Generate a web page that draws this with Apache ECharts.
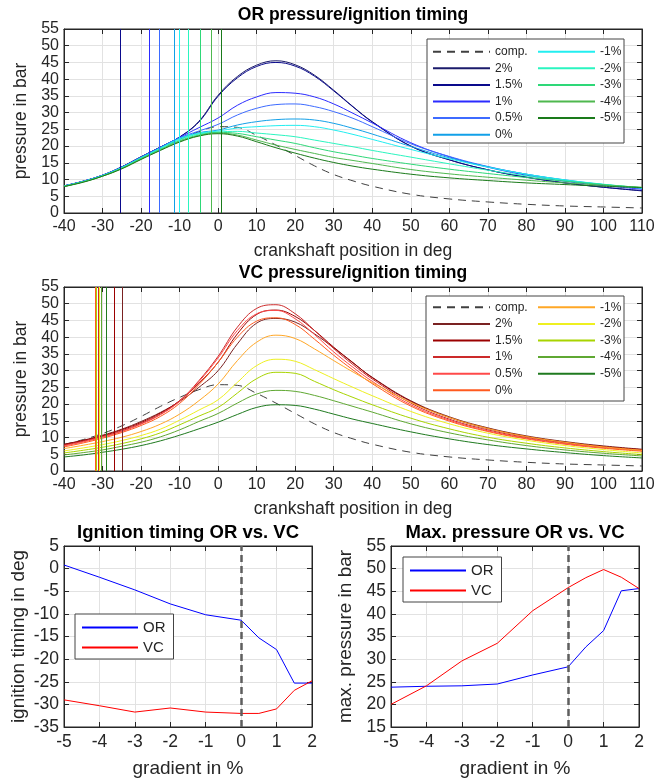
<!DOCTYPE html>
<html>
<head>
<meta charset="utf-8">
<script src="https://cdn.jsdelivr.net/npm/echarts@6/dist/echarts.min.js"></script>
<style>
  html, body { margin: 0; padding: 0; background: #fff; }
  #chart { width: 667px; height: 780px; }
</style>
</head>
<body>
<div id="chart"></div>
<script>
// crank angle samples (deg) shared by all pressure traces
const crankDeg = [-40,-35,-30,-25,-20,-15,-10,-5,0,5,10,15,20,25,30,35,40,50,60,70,80,90,100,110];
const compression = [7.9,9.4,11.2,13.5,16.3,19.3,22.0,24.3,25.8,25.6,23.2,20.3,17.2,14.1,11.5,9.6,8.0,5.6,4.2,3.3,2.6,2.1,1.8,1.5];

// OR pressure traces (bar)
const or2   = [8.1,9.5,11.3,13.8,16.8,19.7,22.7,27.4,35.2,40.8,44.2,45.5,44.3,41.2,36.7,31.8,27.3,20.0,15.9,12.9,10.7,9.0,7.7,6.6];
const or15  = [8.1,9.5,11.3,13.8,16.8,19.7,22.7,27.2,34.9,40.4,43.8,45.0,43.9,40.9,36.5,31.7,27.2,20.0,15.9,12.9,10.7,9.0,7.7,6.7];
const or1   = [8.1,9.5,11.3,13.7,16.7,19.6,22.6,25.5,28.4,32.2,34.7,36.0,35.8,34.7,32.6,29.8,26.9,21.0,16.8,13.7,11.3,9.5,8.2,7.1];
const or05  = [8.1,9.5,11.3,13.7,16.7,19.6,22.5,24.5,26.5,29.3,31.3,32.4,32.6,31.8,30.3,28.3,25.8,20.7,16.9,13.9,11.6,9.8,8.4,7.3];
const or0   = [8.1,9.4,11.2,13.6,16.6,19.5,22.3,24.0,24.8,26.3,27.3,27.9,28.1,27.8,26.8,25.3,23.6,19.9,16.5,13.8,11.6,9.9,8.5,7.4];
const orM1  = [8.0,9.4,11.2,13.6,16.5,19.4,22.2,23.8,24.5,25.4,25.8,26.1,26.2,25.8,24.8,23.5,22.0,19.0,16.2,13.7,11.6,9.9,8.6,7.5];
const orM2  = [8.0,9.4,11.1,13.5,16.4,19.2,21.9,23.6,24.2,24.4,23.9,23.4,22.8,21.8,20.8,19.8,18.7,16.7,14.7,12.8,11.1,9.7,8.5,7.5];
const orM3  = [8.0,9.3,11.1,13.4,16.3,19.0,21.6,23.3,24.1,23.8,22.8,21.8,20.8,19.5,18.3,17.3,16.3,14.6,13.1,11.8,10.6,9.5,8.5,7.6];
const orM4  = [7.9,9.3,11.0,13.3,16.1,18.8,21.4,23.1,23.9,23.3,21.8,20.3,19.0,17.8,16.6,15.7,14.8,13.0,11.7,10.7,9.8,9.0,8.3,7.7];
const orM5  = [7.9,9.2,11.0,13.2,16.0,18.7,21.2,23.0,23.7,23.0,21.3,19.5,17.9,16.4,15.1,14.0,13.1,11.6,10.5,9.7,9.0,8.5,8.0,7.6];

// VC pressure traces (bar)
const vc2   = [8.0,9.2,10.7,12.5,14.8,17.5,20.8,25.0,30.0,38.0,44.2,45.6,44.5,41.0,36.8,32.3,28.0,21.0,16.2,12.9,10.5,8.8,7.5,6.5];
const vc15  = [7.9,9.1,10.5,12.3,14.5,17.3,21.0,26.2,32.5,41.0,46.8,48.1,46.2,42.0,37.0,32.4,27.9,20.8,16.0,12.7,10.3,8.6,7.3,6.4];
const vc1   = [7.7,8.9,10.3,12.0,14.2,17.0,21.0,27.0,34.3,43.0,48.6,49.7,47.0,42.0,36.6,31.8,27.5,20.3,15.5,12.3,10.0,8.4,7.1,6.2];
const vc05  = [7.5,8.7,10.1,11.8,14.0,16.8,20.8,26.7,33.8,42.0,47.0,48.0,45.5,40.8,35.6,31.0,26.8,19.8,15.2,12.0,9.8,8.2,7.0,6.1];
const vc0   = [7.2,8.4,9.8,11.5,13.6,16.3,20.2,25.8,32.5,40.0,44.8,45.8,43.8,39.4,34.6,30.2,26.1,19.4,14.9,11.8,9.6,8.0,6.8,5.9];
const vcM1  = [6.7,7.7,8.8,10.1,11.8,14.0,17.0,21.0,26.0,33.0,38.5,40.6,39.6,36.5,33.0,29.6,26.4,20.5,16.0,12.7,10.3,8.6,7.2,6.2];
const vcM2  = [6.0,6.9,7.9,9.1,10.6,12.5,15.2,18.2,21.3,26.5,31.5,33.4,32.8,30.3,27.6,25.0,22.5,17.8,14.1,11.3,9.2,7.6,6.4,5.4];
const vcM3  = [5.4,6.2,7.1,8.2,9.6,11.4,13.8,16.4,19.0,23.3,27.6,29.5,29.2,26.8,24.3,22.0,19.8,15.8,12.6,10.1,8.3,6.9,5.8,4.9];
const vcM4  = [4.8,5.5,6.3,7.4,8.6,10.2,12.3,14.8,17.2,20.3,23.0,24.1,23.8,22.6,21.0,19.3,17.6,14.1,11.4,9.3,7.6,6.3,5.3,4.5];
const vcM5  = [4.2,4.8,5.6,6.5,7.6,9.0,10.7,12.6,14.6,16.9,19.0,19.8,19.6,18.5,17.0,15.5,14.2,11.7,9.6,7.9,6.6,5.5,4.6,3.9];

// gradient sweep
const gradient = [-5,-4,-3,-2,-1,0,0.5,1,1.5,2];
const ignitionOR = [0.8,-1.9,-4.7,-7.8,-10.2,-11.4,-15.3,-17.9,-25.3,-25.3];
const ignitionVC = [-29.0,-30.3,-31.7,-30.8,-31.7,-32.0,-32.0,-31.0,-26.9,-24.8];
const maxPressureOR = [23.8,24.0,24.1,24.5,26.5,28.3,32.7,36.3,45.1,45.6];
const maxPressureVC = [20.0,24.1,29.6,33.5,40.7,45.8,48.0,49.8,48.1,45.6];

const caseLabels = ['2%','1.5%','1%','0.5%','0%','-1%','-2%','-3%','-4%','-5%'];
const caseGradient = [2,1.5,1,0.5,0,-1,-2,-3,-4,-5];
const orTraces = [or2,or15,or1,or05,or0,orM1,orM2,orM3,orM4,orM5];
const vcTraces = [vc2,vc15,vc1,vc05,vc0,vcM1,vcM2,vcM3,vcM4,vcM5];
const orColors = ['#1b1b6b','#0a0a8c','#2b2bff','#3d6bff','#12a0e8','#22eef0','#2af5c0','#2ed878','#4fb84f','#1a7a1a'];
const vcColors = ['#7a2222','#9b0000','#cc2a2a','#ff4a4a','#ff5a1f','#ffa726','#eef020','#a8d400','#5fa832','#1f7a1f'];

const FONT = '"Liberation Sans", Arial, Helvetica, sans-serif';
const INK = '#262626';

const chart = echarts.init(document.getElementById('chart'));

const grids = [
  { left: 64, top: 29, width: 578, height: 184 },
  { left: 64, top: 287, width: 578, height: 184 },
  { left: 64, top: 546, width: 248, height: 181 },
  { left: 391, top: 546, width: 248, height: 181 }
].map(g => Object.assign({ show: true, borderColor: INK, borderWidth: 1, backgroundColor: '#fff' }, g));

const xAxes = [], yAxes = [];
function addAxes(gi, xr, yr, xName, yName, xGap, yGap, fs, nfs) {
  const tick = { show: true, inside: true, length: 5, lineStyle: { color: INK } };
  const line = { show: true, onZero: false, lineStyle: { color: INK } };
  const label = { fontSize: fs, color: INK, fontFamily: FONT, margin: 5 };
  xAxes.push({
    gridIndex: gi, type: 'value', min: xr[0], max: xr[1], interval: xr[2],
    name: xName, nameLocation: 'middle', nameGap: xGap,
    nameTextStyle: { fontSize: nfs, color: INK, fontFamily: FONT },
    axisLine: line, axisTick: tick, axisLabel: Object.assign({}, label, { margin: 6 }),
    splitLine: { show: true, lineStyle: { color: '#e2e2e2' } }
  });
  xAxes.push({
    gridIndex: gi, type: 'value', position: 'top', min: xr[0], max: xr[1], interval: xr[2],
    axisLine: line, axisTick: tick, axisLabel: { show: false }, splitLine: { show: false }
  });
  yAxes.push({
    gridIndex: gi, type: 'value', min: yr[0], max: yr[1], interval: yr[2],
    name: yName, nameLocation: 'middle', nameGap: yGap,
    nameTextStyle: { fontSize: nfs, color: INK, fontFamily: FONT },
    axisLine: line, axisTick: tick, axisLabel: label,
    splitLine: { show: true, lineStyle: { color: '#e2e2e2' } }
  });
  yAxes.push({
    gridIndex: gi, type: 'value', position: 'right', min: yr[0], max: yr[1], interval: yr[2],
    axisLine: line, axisTick: tick, axisLabel: { show: false }, splitLine: { show: false }
  });
}
addAxes(0, [-40,110,10], [0,55,5], 'crankshaft position in deg', 'pressure in bar', 29, 28, 16, 17.5);
addAxes(1, [-40,110,10], [0,55,5], 'crankshaft position in deg', 'pressure in bar', 29, 28, 16, 17.5);
addAxes(2, [-5,2,1], [-35,5,5], 'gradient in %', 'ignition timing in deg', 32, 36, 17.5, 19);
addAxes(3, [-5,2,1], [15,55,5], 'gradient in %', 'max. pressure in bar', 32, 36, 17.5, 19);

const zip = (xs, ys) => xs.map((x, i) => [x, ys[i]]);

function pressureSeries(tag, gi, traces, colors, ignition) {
  const out = [{
    name: tag + '|comp.', type: 'line', xAxisIndex: 2 * gi, yAxisIndex: 2 * gi,
    data: zip(crankDeg, compression), symbol: 'none', smooth: 0.4,
    lineStyle: { width: 1, color: '#404040', type: [8, 6] }, itemStyle: { color: '#404040' }
  }];
  traces.forEach((trace, i) => {
    const c = colors[i];
    out.push({
      name: tag + '|' + caseLabels[i], type: 'line', xAxisIndex: 2 * gi, yAxisIndex: 2 * gi,
      data: zip(crankDeg, trace), symbol: 'none', smooth: 0.4,
      lineStyle: { width: 1, color: c }, itemStyle: { color: c },
      markLine: {
        silent: true, symbol: 'none', label: { show: false },
        lineStyle: { type: 'solid', width: 1, color: c },
        data: [{ xAxis: ignition[gradient.indexOf(caseGradient[i])] }]
      }
    });
  });
  return out;
}

function sweepSeries(tag, gi, orVals, vcVals) {
  return [
    {
      name: tag + '|OR', type: 'line', xAxisIndex: 2 * gi, yAxisIndex: 2 * gi,
      data: zip(gradient, orVals), symbol: 'none',
      lineStyle: { width: 1, color: '#0000ff' }, itemStyle: { color: '#0000ff' },
      markLine: {
        silent: true, symbol: 'none', label: { show: false },
        lineStyle: { type: [7, 4], width: 2.5, color: '#5e5e5e' },
        data: [{ xAxis: 0 }]
      }
    },
    {
      name: tag + '|VC', type: 'line', xAxisIndex: 2 * gi, yAxisIndex: 2 * gi,
      data: zip(gradient, vcVals), symbol: 'none',
      lineStyle: { width: 1, color: '#ff0000' }, itemStyle: { color: '#ff0000' }
    }
  ];
}

const series = [].concat(
  pressureSeries('OR', 0, orTraces, orColors, ignitionOR),
  pressureSeries('VC', 1, vcTraces, vcColors, ignitionVC),
  sweepSeries('IGN', 2, ignitionOR, ignitionVC),
  sweepSeries('MAX', 3, maxPressureOR, maxPressureVC)
);

const strip = n => n.split('|')[1];
function smallLegend(names, left, top) {
  return {
    data: names, left: left, top: top, orient: 'vertical', selectedMode: false, z: 20,
    itemWidth: 57, itemHeight: 12, itemGap: 4.6, padding: 0, formatter: strip,
    itemStyle: { opacity: 0 },
    textStyle: { fontSize: 12, lineHeight: 12, color: INK, fontFamily: FONT }
  };
}
function sweepLegend(tag, left, top) {
  return {
    data: [tag + '|OR', tag + '|VC'], left: left, top: top, orient: 'vertical', selectedMode: false, z: 20,
    itemWidth: 56, itemHeight: 12, itemGap: 5, padding: [6, 8, 4, 6], formatter: strip,
    itemStyle: { opacity: 0 },
    backgroundColor: '#fff', borderColor: '#444', borderWidth: 1,
    textStyle: { fontSize: 15, lineHeight: 15, color: INK, fontFamily: FONT }
  };
}

const titleStyle = (fs) => ({ fontSize: fs, fontWeight: 'bold', color: '#000', fontFamily: FONT });

const option = {
  animation: false,
  backgroundColor: '#fff',
  title: [
    { text: 'OR pressure/ignition timing', left: 353, top: 6, textAlign: 'center', textStyle: titleStyle(17.5), padding: 0 },
    { text: 'VC pressure/ignition timing', left: 353, top: 264, textAlign: 'center', textStyle: titleStyle(17.5), padding: 0 },
    { text: 'Ignition timing OR vs. VC', left: 188, top: 523, textAlign: 'center', textStyle: titleStyle(18.5), padding: 0 },
    { text: 'Max. pressure OR vs. VC', left: 515, top: 523, textAlign: 'center', textStyle: titleStyle(18.5), padding: 0 }
  ],
  grid: grids,
  xAxis: xAxes,
  yAxis: yAxes,
  graphic: [
    { type: 'rect', shape: { x: 427, y: 39, width: 197, height: 104 }, style: { fill: '#fff', stroke: '#444', lineWidth: 1 }, z: 10 },
    { type: 'rect', shape: { x: 426, y: 296, width: 198, height: 105 }, style: { fill: '#fff', stroke: '#444', lineWidth: 1 }, z: 10 }
  ],
  legend: [
    smallLegend(['OR|comp.','OR|2%','OR|1.5%','OR|1%','OR|0.5%','OR|0%'], 432, 45.7),
    smallLegend(['OR|-1%','OR|-2%','OR|-3%','OR|-4%','OR|-5%'], 537, 45.7),
    smallLegend(['VC|comp.','VC|2%','VC|1.5%','VC|1%','VC|0.5%','VC|0%'], 432, 301.3),
    smallLegend(['VC|-1%','VC|-2%','VC|-3%','VC|-4%','VC|-5%'], 537, 301.3),
    sweepLegend('IGN', 75, 614),
    sweepLegend('MAX', 403, 557)
  ],
  series: series
};

chart.setOption(option);
</script>
</body>
</html>
